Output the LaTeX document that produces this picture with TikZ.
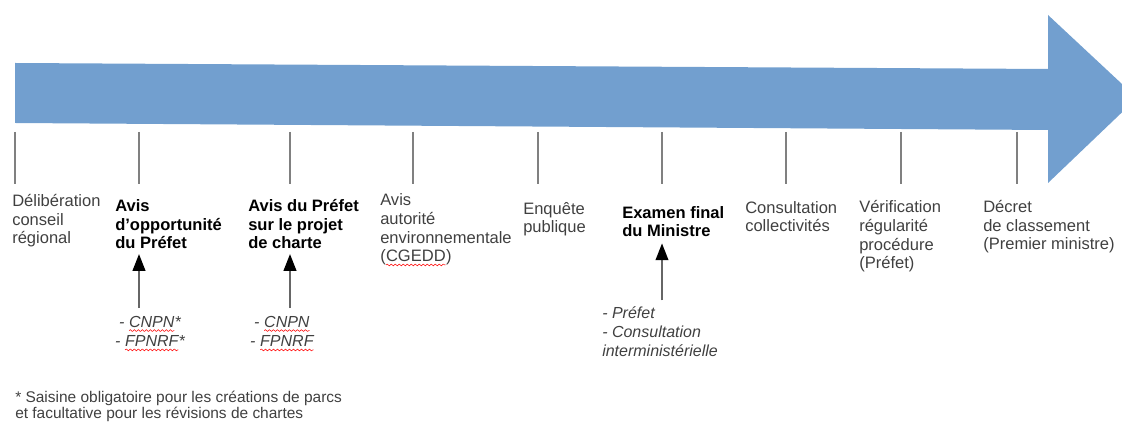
\documentclass[tikz,border=0pt]{standalone}
\usepackage{fontspec}
\setmainfont{Liberation Sans}
\usetikzlibrary{arrows.meta,decorations.pathmorphing}
\definecolor{pfeilblau}{RGB}{114,159,207}
\newcommand{\rougeonde}[1]{\tikz[baseline=(mot.base)]{\node[inner sep=0pt, outer sep=0pt, anchor=base] (mot) at (0,0) {#1};
	\draw[red, line width=0.4pt, decorate, decoration={snake, amplitude=0.7pt, segment length=3pt}] ([yshift=-2.2pt]mot.base west) -- ([yshift=-2.2pt]mot.base east);}}
\tikzset{
	etape/.style={anchor=base west, align=left, inner sep=0pt, text=black!75, font=\fontsize{12.4}{14}\selectfont},
	etapegras/.style={etape, text=black, font=\fontsize{12.4}{14}\selectfont\bfseries},
	remarque/.style={inner sep=0pt, text=black!75, font=\fontsize{12}{14.5}\selectfont\itshape},
	strich/.style={draw=black!50, line width=1pt},
	pfeil/.style={draw=black!60, line width=1.2pt, -{Triangle[length=12.5pt,width=9.5pt,color=black]}}
}
\begin{document}
\begin{tikzpicture}[x=0.75pt, y=-0.75pt, line join=round]
	\useasboundingbox (0,0) rectangle (1122,423);
	% Zeitstrahl
	\fill[pfeilblau] (15,63) -- (1048,69) -- (1048,15) -- (1137,98) -- (1048,183) -- (1048,130) -- (15,123) -- cycle;
	% Striche
	\foreach \x [count=\i] in {15,139,290,413,538,662,786,901,1017}
		\draw[strich] (\x,132) coordinate (t\i) -- (\x,184);
	% Etappen (Grundlinie der letzten Zeile)
	\node[etape] (delib) at (12,244) {Délibération\\conseil\\régional};
	\node[etapegras] (avisopp) at (115,249) {Avis\\d’opportunité\\du Préfet};
	\node[etapegras] (avispref) at (248,249) {Avis du Préfet\\sur le projet\\de charte};
	\node[etape] (avisae) at (380,262) {Avis\\autorité\\environnementale\\(\rougeonde{CGEDD})};
	\node[etape] (enquete) at (523,233) {Enquête\\publique};
	\node[etapegras] (examen) at (622,237) {Examen final\\du Ministre};
	\node[etape] (consult) at (745,232) {Consultation\\collectivités};
	\node[etape] (verif) at (859,269) {Vérification\\régularité\\procédure\\(Préfet)};
	\node[etape] (decret) at (983,250) {Décret\\de classement\\(Premier ministre)};
	% Bemerkungen
	\node[remarque, anchor=base, align=center] (remopp) at (150,347) {- \rougeonde{CNPN}*\\- \rougeonde{FPNRF}*};
	\node[remarque, anchor=base, align=center] (rempref) at (282,347) {- \rougeonde{CNPN}\\- \rougeonde{FPNRF}};
	\node[remarque, anchor=base west, align=left] (remexam) at (602,357) {- Préfet\\- Consultation\\interministérielle};
	% Pfeile
	\draw[pfeil, shorten <=6pt, shorten >=3.5pt] (remopp.north -| t2) -- (avisopp.south -| t2);
	\draw[pfeil, shorten <=6pt, shorten >=3.5pt] (rempref.north -| t3) -- (avispref.south -| t3);
	\draw[pfeil, shorten <=4.5pt, shorten >=4.5pt] (remexam.north -| t6) -- (examen.south -| t6);
	% Fussnote
	\node[etape, font=\fontsize{11.6}{12}\selectfont] (fussnote) at (15,419) {* Saisine obligatoire pour les créations de parcs\\et facultative pour les révisions de chartes};
\end{tikzpicture}
\end{document}
